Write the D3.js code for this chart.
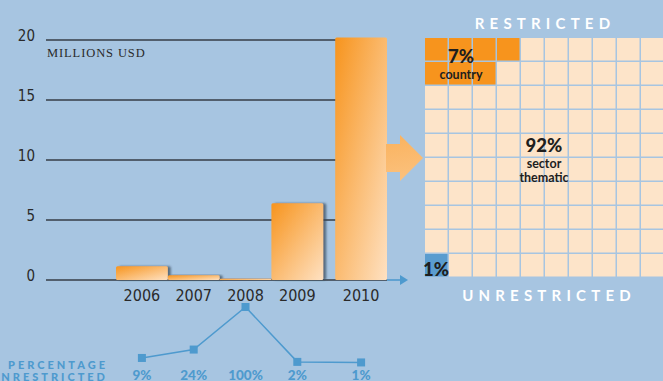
<!DOCTYPE html>
<html>
<head>
<meta charset="utf-8">
<script src="https://cdn.jsdelivr.net/npm/d3@7"></script>
<style>
  html, body { margin: 0; padding: 0; background: #a7c5e1; }
  svg { display: block; }
</style>
</head>
<body>
<svg id="chart" width="663" height="381"></svg>
<script>
// Funding by year (millions USD) and share that was unrestricted
const years = ["2006", "2007", "2008", "2009", "2010"];
const funding = [1.15, 0.4, 0.1, 6.4, 20.2];
const pctUnrestricted = [9, 24, 100, 2, 1];
const yTicks = [0, 5, 10, 15, 20];

// 2010 breakdown on a 10 x 10 grid
const breakdownLabels = ["country", "sector thematic", "unrestricted"];
const breakdownPct = [7, 92, 1];

const svg = d3.select("#chart");
const defs = svg.append("defs");

const C = {
  bg: "#a7c5e1",
  grid: "#363d46",
  text: "#2a2a2a",
  orange: "#f7941d",
  light: "#fee1c2",
  peach: "#fde4c9",
  blue: "#4e9ace",
  cellBlue: "#5a9ccf"
};

// gradients and shadow
const grad = defs.append("linearGradient").attr("id", "barGrad")
  .attr("x1", 0).attr("y1", 0).attr("x2", 1).attr("y2", 1);
grad.append("stop").attr("offset", "0%").attr("stop-color", C.orange);
grad.append("stop").attr("offset", "100%").attr("stop-color", C.light);

const gradV = defs.append("linearGradient").attr("id", "arrowGrad")
  .attr("gradientUnits", "userSpaceOnUse")
  .attr("x1", 380).attr("y1", 40).attr("x2", 420).attr("y2", 280);
gradV.append("stop").attr("offset", "0%").attr("stop-color", C.orange);
gradV.append("stop").attr("offset", "100%").attr("stop-color", C.light);

const shadow = defs.append("filter").attr("id", "shadow")
  .attr("x", "-20%").attr("y", "-20%").attr("width", "150%").attr("height", "150%");
shadow.append("feDropShadow").attr("dx", 3).attr("dy", 0).attr("stdDeviation", 1.2)
  .attr("flood-color", "#354556").attr("flood-opacity", 0.7);

// scales
const y = d3.scaleLinear().domain([0, 20]).range([280, 40]);
const x = d3.scaleBand().domain(years).range([116, 375]).paddingInner(0);
const lastGap = 12; // the current year sits slightly apart
const bx = yr => x(yr) + (yr === years[years.length - 1] ? lastGap : 0);
const bw = x.bandwidth();
const xLeft = 46;
const xRight = bx("2010") + bw;

// gridlines and tick labels
const axis = svg.append("g");
axis.selectAll("line.grid").data(yTicks).join("line")
  .attr("x1", xLeft).attr("x2", xRight)
  .attr("y1", d => y(d)).attr("y2", d => y(d))
  .attr("stroke", C.grid).attr("stroke-width", 1.4);
axis.selectAll("text.tick").data(yTicks).join("text")
  .attr("x", 35).attr("y", d => y(d) + 1)
  .attr("text-anchor", "end")
  .attr("font-family", "'Liberation Sans Narrow','DejaVu Sans Condensed',sans-serif")
  .attr("font-size", 15).attr("fill", C.text)
  .text(d => d);

svg.append("text").attr("x", 47).attr("y", 57)
  .attr("font-family", "'Liberation Serif','DejaVu Serif',serif")
  .attr("font-size", 12.5).attr("fill", C.text).attr("letter-spacing", 0.9)
  .text("MILLIONS USD");

// small arrow from the baseline to the unrestricted cell
svg.append("line")
  .attr("x1", xRight).attr("x2", 404).attr("y1", y(0)).attr("y2", y(0))
  .attr("stroke", C.blue).attr("stroke-width", 1.6);
svg.append("path")
  .attr("d", d3.line()([[400, y(0) - 5], [408, y(0)], [400, y(0) + 5]]) + "Z")
  .attr("fill", C.blue);

// bars
const bars = svg.append("g");
bars.selectAll("rect").data(years.map((yr, i) => ({ yr, v: funding[i] }))).join("rect")
  .attr("x", d => bx(d.yr))
  .attr("width", bw)
  .attr("y", d => y(d.v))
  .attr("height", d => y(0) - y(d.v))
  .attr("rx", 1.5)
  .attr("fill", "url(#barGrad)")
  .attr("filter", d => d.yr === "2010" ? null : "url(#shadow)");

// year labels
svg.selectAll("text.year").data(years).join("text")
  .attr("class", "year")
  .attr("x", d => bx(d) + bw / 2).attr("y", 301)
  .attr("text-anchor", "middle")
  .attr("font-family", "'Liberation Sans Narrow','DejaVu Sans Condensed',sans-serif")
  .attr("font-size", 16).attr("fill", C.text)
  .text(d => d);

// big arrow into the grid
const aTop = 135, aBot = 181, bTop = 144, bBot = 172, aMid = (aTop + aBot) / 2;
svg.append("path")
  .attr("d", d3.line()([
    [xRight - 1, bTop], [400, bTop], [400, aTop], [423, aMid],
    [400, aBot], [400, bBot], [xRight - 1, bBot]
  ]) + "Z")
  .attr("fill", "url(#arrowGrad)");

// 10 x 10 grid
const gx0 = 425, gy0 = 38, step = 24, cell = 22.5;
const countCells = breakdownPct[0], unrestrictedCells = breakdownPct[2];
const cells = d3.range(100).map(i => {
  const row = Math.floor(i / 10), col = i % 10;
  let cat = 1;
  if (row < 2 && col < 4 && row * 4 + col < countCells) cat = 0;
  else if (row === 9 && col < unrestrictedCells) cat = 2;
  return { row, col, cat };
});
svg.append("g").selectAll("rect").data(cells).join("rect")
  .attr("x", d => gx0 + d.col * step)
  .attr("y", d => gy0 + d.row * step)
  .attr("width", cell).attr("height", cell)
  .attr("fill", d => [C.orange, C.peach, C.cellBlue][d.cat]);

const labelFont = "Lato, 'Open Sans', sans-serif";
function gridLabel(xc, yb, pct, lines) {
  svg.append("text").attr("x", xc).attr("y", yb).attr("text-anchor", "middle")
    .attr("font-family", labelFont).attr("font-weight", 900)
    .attr("font-size", 18.5).attr("fill", "#1e1e1e").text(pct + "%");
  lines.forEach((t, k) => {
    svg.append("text").attr("x", xc).attr("y", yb + 16 + k * 13.5)
      .attr("text-anchor", "middle")
      .attr("font-family", labelFont).attr("font-weight", 700)
      .attr("font-size", 12.5).attr("fill", "#1e1e1e").text(t);
  });
}
gridLabel(461, 63, breakdownPct[0], [breakdownLabels[0]]);
gridLabel(544, 152, breakdownPct[1], breakdownLabels[1].split(" "));
gridLabel(436, 276, breakdownPct[2], []);

svg.append("text").attr("x", 545).attr("y", 29).attr("text-anchor", "middle")
  .attr("font-family", labelFont).attr("font-weight", 700)
  .attr("font-size", 15).attr("letter-spacing", 5.2).attr("fill", "#ffffff")
  .text("RESTRICTED");
svg.append("text").attr("x", 549).attr("y", 301).attr("text-anchor", "middle")
  .attr("font-family", labelFont).attr("font-weight", 700)
  .attr("font-size", 15).attr("letter-spacing", 5.2).attr("fill", "#ffffff")
  .text("UNRESTRICTED");

// percentage unrestricted line
const y2 = d3.scaleLinear().domain([0, 100]).range([363, 307]);
const pts = years.map((yr, i) => [bx(yr) + bw / 2, y2(pctUnrestricted[i])]);
svg.append("path").attr("d", d3.line()(pts))
  .attr("fill", "none").attr("stroke", C.blue).attr("stroke-width", 1.5);
svg.selectAll("rect.pt").data(pts).join("rect")
  .attr("x", d => d[0] - 4).attr("y", d => d[1] - 4)
  .attr("width", 8).attr("height", 8).attr("fill", C.blue);
svg.selectAll("text.pct").data(years).join("text")
  .attr("x", d => bx(d) + bw / 2).attr("y", 380)
  .attr("text-anchor", "middle")
  .attr("font-family", labelFont).attr("font-weight", 900)
  .attr("font-size", 13.5).attr("fill", C.blue)
  .text((d, i) => pctUnrestricted[i] + "%");

["PERCENTAGE", "UNRESTRICTED"].forEach((t, k) => {
  svg.append("text").attr("x", 108).attr("y", 369 + k * 11.5)
    .attr("text-anchor", "end")
    .attr("font-family", labelFont).attr("font-weight", 900)
    .attr("font-size", 11).attr("letter-spacing", 3).attr("fill", C.blue)
    .text(t);
});
</script>
</body>
</html>
